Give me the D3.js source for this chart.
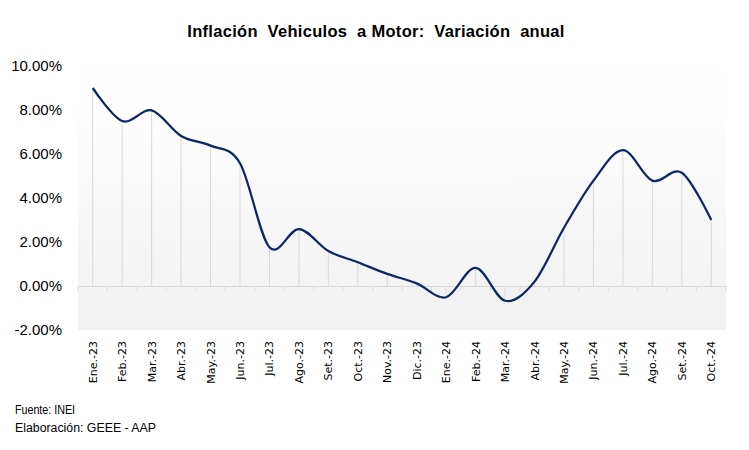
<!DOCTYPE html>
<html>
<head>
<meta charset="utf-8">
<script src="https://cdn.jsdelivr.net/npm/d3@7"></script>
<style>
  body { margin: 0; background: #fff; }
  svg { display: block; }
</style>
</head>
<body>
<svg id="svg" width="749" height="450"></svg>
<script>
// meses (eje x)
var months = ["Ene.-23", "Feb.-23", "Mar.-23", "Abr.-23", "May.-23", "Jun.-23", "Jul.-23", "Ago.-23",
  "Set.-23", "Oct.-23", "Nov.-23", "Dic.-23", "Ene.-24", "Feb.-24", "Mar.-24", "Abr.-24",
  "May.-24", "Jun.-24", "Jul.-24", "Ago.-24", "Set.-24", "Oct.-24"];
// variacion anual (%)
var values = [9.0, 7.5, 7.98, 6.82, 6.38, 5.58, 1.76, 2.59, 1.59, 1.08, 0.55, 0.12,
  -0.51, 0.82, -0.67, 0.2, 2.65, 4.79, 6.18, 4.79, 5.15, 3.0];
var yTicks = [-2, 0, 2, 4, 6, 8, 10];

var svg = d3.select("#svg");

var x = d3.scaleBand().domain(months).range([78, 726]);
var y = d3.scaleLinear().domain([-2, 10]).range([330, 66]);

// fondo del area de grafico
var defs = svg.append("defs");
var grad = defs.append("linearGradient")
  .attr("id", "bg")
  .attr("gradientUnits", "userSpaceOnUse")
  .attr("x1", 0).attr("y1", 55).attr("x2", 0).attr("y2", y(0));
grad.append("stop").attr("offset", "0").attr("stop-color", "#ffffff");
grad.append("stop").attr("offset", "0.3").attr("stop-color", "#fdfdfd");
grad.append("stop").attr("offset", "1").attr("stop-color", "#f3f3f3");

svg.append("rect")
  .attr("x", 78).attr("y", 55)
  .attr("width", 648).attr("height", y(0) - 55)
  .attr("fill", "url(#bg)");
svg.append("rect")
  .attr("x", 78).attr("y", y(0))
  .attr("width", 648).attr("height", y(-2) - y(0))
  .attr("fill", "#f2f2f2");

// titulo
svg.append("text")
  .attr("x", 376)
  .attr("y", 37)
  .attr("text-anchor", "middle")
  .style("font-family", "Liberation Sans, Arial, sans-serif")
  .style("font-weight", "bold")
  .style("font-size", "16.5px")
  .style("letter-spacing", "0.3px")
  .style("white-space", "pre")
  .attr("fill", "#000")
  .text("Inflación  Vehiculos  a Motor:  Variación  anual");

// eje y (solo etiquetas)
svg.append("g")
  .selectAll("text")
  .data(yTicks)
  .enter()
  .append("text")
  .attr("x", 62)
  .attr("y", function(d) { return y(d) + 5; })
  .attr("text-anchor", "end")
  .style("font-family", "Liberation Sans, Arial, sans-serif")
  .style("font-size", "15px")
  .attr("fill", "#000")
  .text(function(d) { return d.toFixed(2) + "%"; });

// lineas de caida
svg.append("g")
  .selectAll("line")
  .data(values)
  .enter()
  .append("line")
  .attr("x1", function(d, i) { return x(months[i]) + x.bandwidth() / 2; })
  .attr("x2", function(d, i) { return x(months[i]) + x.bandwidth() / 2; })
  .attr("y1", function(d) { return y(d); })
  .attr("y2", y(0))
  .attr("stroke", "#d9d9d9")
  .attr("stroke-width", 1);

// eje x en cero
var xAxis = d3.axisBottom(x).tickSize(0).tickFormat("");
var gx = svg.append("g")
  .attr("transform", "translate(0," + y(0) + ")")
  .call(xAxis);
gx.select(".domain").attr("stroke", "#d9d9d9").attr("stroke-width", 1);
gx.selectAll(".tick").remove();

var bounds = months.map(function(m) { return x(m); }).concat([x.range()[1]]);
gx.selectAll("line.tk")
  .data(bounds)
  .enter()
  .append("line")
  .attr("class", "tk")
  .attr("x1", function(d) { return d; })
  .attr("x2", function(d) { return d; })
  .attr("y1", 0)
  .attr("y2", 5)
  .attr("stroke", "#d9d9d9");

// etiquetas de meses
svg.append("g")
  .selectAll("text")
  .data(months)
  .enter()
  .append("text")
  .attr("transform", function(d) {
    return "translate(" + (x(d) + x.bandwidth() / 2 + 4) + ",341) rotate(-90)";
  })
  .attr("text-anchor", "end")
  .style("font-family", "DejaVu Sans, Verdana, sans-serif")
  .style("font-size", "11px")
  .attr("fill", "#000")
  .text(function(d) { return d; });

// linea suavizada
var line = d3.line()
  .x(function(d, i) { return x(months[i]) + x.bandwidth() / 2; })
  .y(function(d) { return y(d); })
  .curve(d3.curveCardinal.tension(0));

svg.append("path")
  .datum(values)
  .attr("d", line)
  .attr("fill", "none")
  .attr("stroke", "#0f2665")
  .attr("stroke-width", 2.25);

// fuente
svg.append("text")
  .attr("x", 15).attr("y", 414)
  .attr("textLength", 60)
  .attr("lengthAdjust", "spacingAndGlyphs")
  .style("font-family", "Liberation Sans, Arial, sans-serif")
  .style("font-size", "12px")
  .text("Fuente: INEI");
svg.append("text")
  .attr("x", 15).attr("y", 432)
  .attr("textLength", 141)
  .attr("lengthAdjust", "spacingAndGlyphs")
  .style("font-family", "Liberation Sans, Arial, sans-serif")
  .style("font-size", "12px")
  .text("Elaboración: GEEE - AAP");
</script>
</body>
</html>
